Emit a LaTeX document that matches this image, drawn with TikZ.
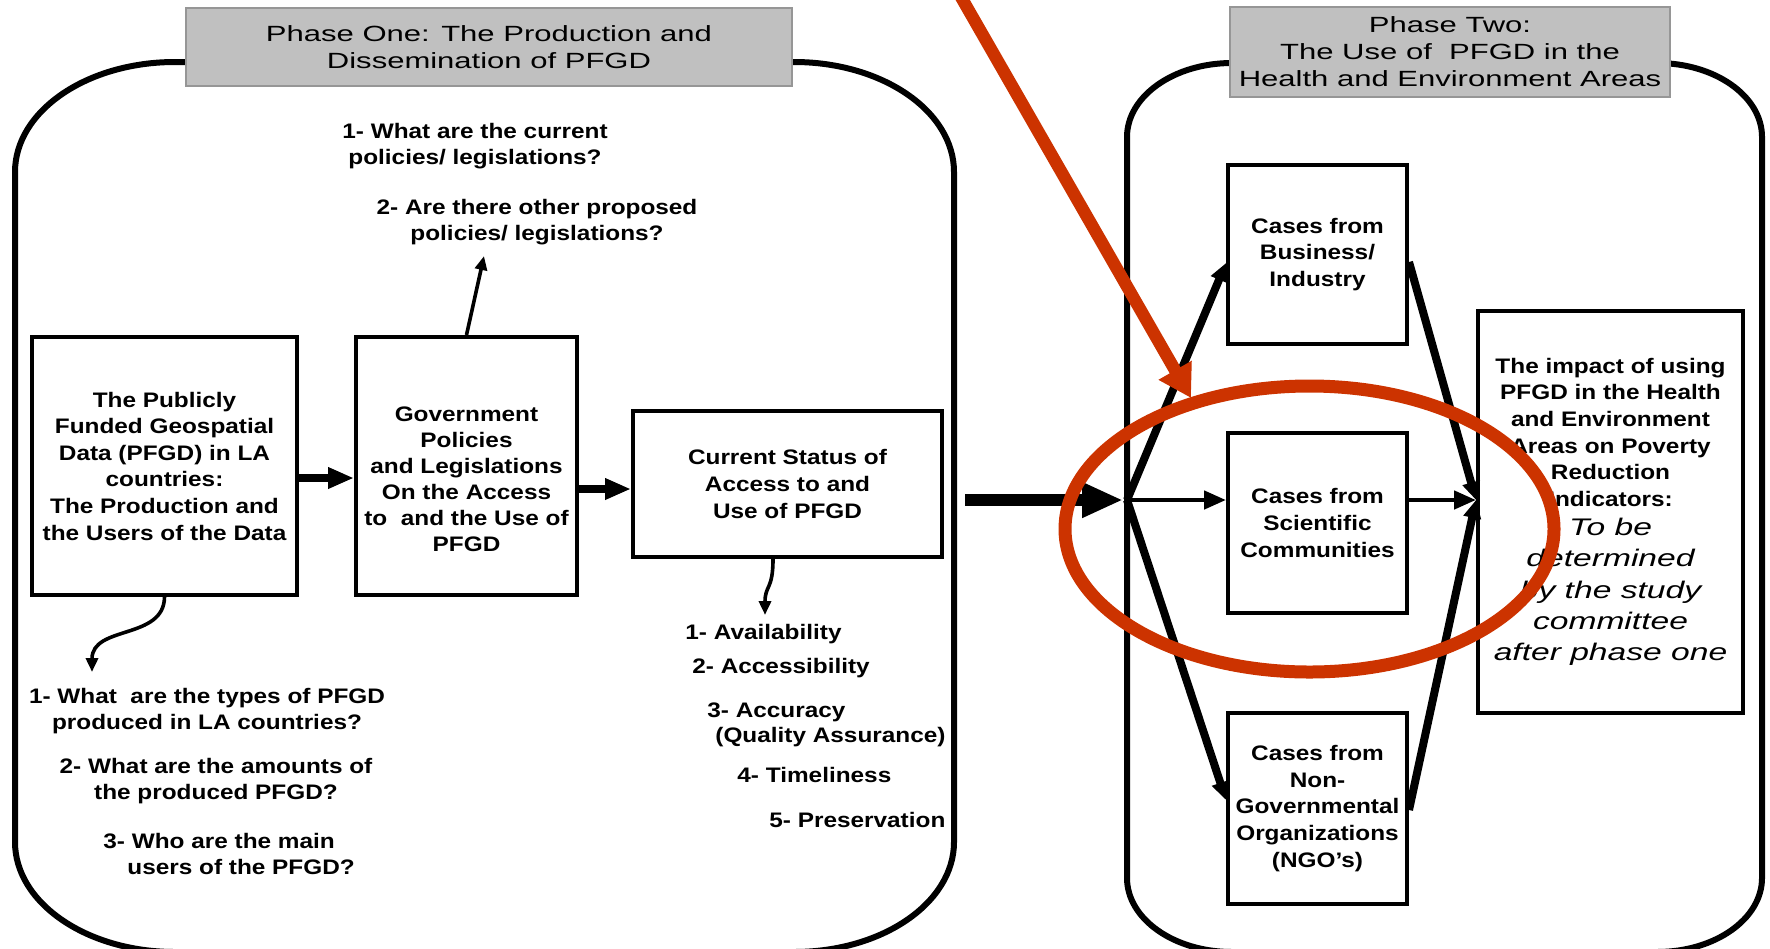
\documentclass[tikz,border=0pt]{standalone}
\usepackage{fontspec}
\setmainfont{Liberation Sans}
\newfontfamily\ttlfont[FakeStretch=1.41]{Liberation Sans}
\newfontfamily\bxfont[FakeStretch=1.16]{Liberation Sans}
\newfontfamily\itfnt[FakeStretch=1.4]{Liberation Sans}
\usetikzlibrary{arrows.meta}
\definecolor{hlred}{RGB}{204,51,0}
\definecolor{ttlfill}{RGB}{192,192,192}
\definecolor{ttledge}{RGB}{150,150,150}
\begin{document}
\begin{tikzpicture}[x=0.5pt,y=-0.5pt,
  frame/.style={line width=3pt},
  ttl/.style={fill=ttlfill,draw=ttledge,line width=0.8pt,inner sep=0pt,align=center,
    font=\ttlfont\fontsize{11}{13.5}\selectfont},
  box/.style={draw,line width=2pt,inner sep=0pt,align=center,
    font=\bxfont\bfseries\fontsize{10.5}{13.3}\selectfont},
  q/.style={inner sep=0pt,align=center,font=\bxfont\bfseries\fontsize{10.5}{13}\selectfont},
  item/.style={inner sep=0pt,anchor=west,font=\bxfont\bfseries\fontsize{10.5}{13}\selectfont},
  fat/.style={line width=3.8pt,-{Triangle[length=13pt,width=10pt]}},
  thinarr/.style={line width=1.8pt,-{Triangle[length=7pt,width=6pt]}},
  bigarr/.style={line width=5.6pt,-{Triangle[length=20.5pt,width=16.5pt]}},
  diag/.style={line width=4pt,-{Triangle[length=9pt,width=8.5pt]}},
  mid/.style={line width=2.3pt,-{Triangle[length=11pt,width=9pt]}},
  redarr/.style={hlred,line width=6.2pt,-{Triangle[length=16pt,width=18pt]}}
]
\useasboundingbox (0,0) rectangle (1770,948);

% frames
\draw[frame] (175,62) .. controls (86.6,62) and (15,111.2) .. (15,172) -- (15,842)
  .. controls (15,902.8) and (86.6,952) .. (175,952) -- (794,952)
  .. controls (882.4,952) and (954,902.8) .. (954,842) -- (954,172)
  .. controls (954,111.2) and (882.4,62) .. (794,62) -- cycle;
\draw[frame] (1232,63) .. controls (1174,63) and (1127,96.1) .. (1127,137) -- (1127,878)
  .. controls (1127,918.9) and (1174,952) .. (1232,952) -- (1657,952)
  .. controls (1715,952) and (1762,918.9) .. (1762,878) -- (1762,137)
  .. controls (1762,96.1) and (1715,63) .. (1657,63) -- cycle;

% titles
\node[ttl,minimum width=303pt,minimum height=39pt] (t1) at (489,47)
  {Phase One: The Production and\\Dissemination of PFGD};
\node[ttl,minimum width=220pt,minimum height=45pt] (t2) at (1450,52)
  {Phase Two:\\The Use of~ PFGD in the\\Health and Environment Areas};

% phase one boxes
\node[box,minimum width=132.5pt,minimum height=129pt] (A) at (164.5,466)
  {The Publicly\\Funded Geospatial\\Data (PFGD) in LA\\countries:\\The Production and\\the Users of the Data};
\node[box,minimum width=110.5pt,minimum height=129pt] (B) at (466.5,466) {};
\node[q] (Btext) at (466.5,479)
  {Government\\Policies\\and Legislations\\On the Access\\to~ and the Use of\\PFGD};
\node[box,minimum width=154.5pt,minimum height=73pt] (C) at (787.5,484)
  {Current Status of\\Access to and\\Use of PFGD};

% questions
\node[q] (q1) at (475,146) {1- What are the current\\policies/ legislations?};
\node[q] (q2) at (537,222) {2- Are there other proposed\\policies/ legislations?};
\coordinate (q2tip) at (484,256);

\node[q] (l1) at (207,711) {1- What~ are the types of PFGD\\produced in LA countries?};
\node[q] (l2) at (216,781) {2- What are the amounts of\\the produced PFGD?};
\node[q,align=left,anchor=west] (l3) at (103,854) {3- Who are the main\\\hspace*{12pt}users of the PFGD?};
\coordinate (ltip) at (92,672);

\node[item] (r1) at (685,634) {1- Availability};
\node[item] (r2) at (692,668) {2- Accessibility};
\node[item] (r3) at (707,712) {3- Accuracy};
\node[item] (r3b) at (715,737) {(Quality Assurance)};
\node[item] (r4) at (737,775) {4- Timeliness};
\node[item] (r5) at (769,820) {5- Preservation};
\coordinate (rtip) at (765,615);

% phase one connectors
\draw[fat] ([yshift=-6pt]A.east) -- ([yshift=-6pt]B.west);
\draw[fat] ([yshift=-11.5pt]B.east) -- ([yshift=-2.5pt]C.west);
\draw[thinarr] (B.north) -- (q2tip);
\draw[thinarr] (A.south) .. controls (164,640) and (92,625) .. (ltip);
\draw[thinarr] ([xshift=-7.25pt]C.south) .. controls (773,590) and (765,585) .. (rtip);

% phase two boxes
\node[box,minimum width=89.5pt,minimum height=89.5pt] (Bus) at (1317.5,254.5)
  {Cases from\\Business/\\Industry};
\node[box,minimum width=89.5pt,minimum height=90pt] (Sci) at (1317.5,523)
  {Cases from\\Scientific\\Communities};
\node[box,minimum width=89.5pt,minimum height=95.5pt] (NGO) at (1317.5,808.5)
  {Cases from\\Non-\\Governmental\\Organizations\\(NGO’s)};
\node[box,minimum width=132.5pt,minimum height=201pt] (Imp) at (1610.5,512)
  {The impact of using\\PFGD in the Health\\and Environment\\Areas on Poverty\\Reduction\\Indicators:\\[1.2pt]
   \itfnt\mdseries\itshape\fontsize{12}{13.3}\selectfont To be\\[2.4pt]
   \itfnt\mdseries\itshape\fontsize{12}{13.3}\selectfont determined\\[2.4pt]
   \itfnt\mdseries\itshape\fontsize{12}{13.3}\selectfont by the study\\[2.4pt]
   \itfnt\mdseries\itshape\fontsize{12}{13.3}\selectfont committee\\[2.4pt]
   \itfnt\mdseries\itshape\fontsize{12}{13.3}\selectfont after phase one};

\coordinate (S) at (965,500);
\coordinate (J) at (1127,500);
\coordinate (K) at ([yshift=6pt]Imp.west);

% phase two connectors
\draw[bigarr] (S) -- ([xshift=-2pt]J);
\draw[diag] (J) -- ([yshift=-4.25pt]Bus.west);
\draw[mid] (J) -- ([yshift=11.5pt]Sci.west);
\draw[diag] (J) -- ([yshift=4.25pt]NGO.west);
\draw[diag] ([yshift=-3.75pt]Bus.east) -- (K);
\draw[mid] ([yshift=11.5pt]Sci.east) -- (K);
\draw[diag] ([yshift=-0.75pt]NGO.east) -- (K);

% highlight
\draw[hlred,line width=6.5pt] (1309.5,529) ellipse [x radius=244.5, y radius=143];
\coordinate (R0) at (957,-10);
\coordinate (R1) at (1191,398);
\draw[redarr] (R0) -- (R1);
\end{tikzpicture}
\end{document}
